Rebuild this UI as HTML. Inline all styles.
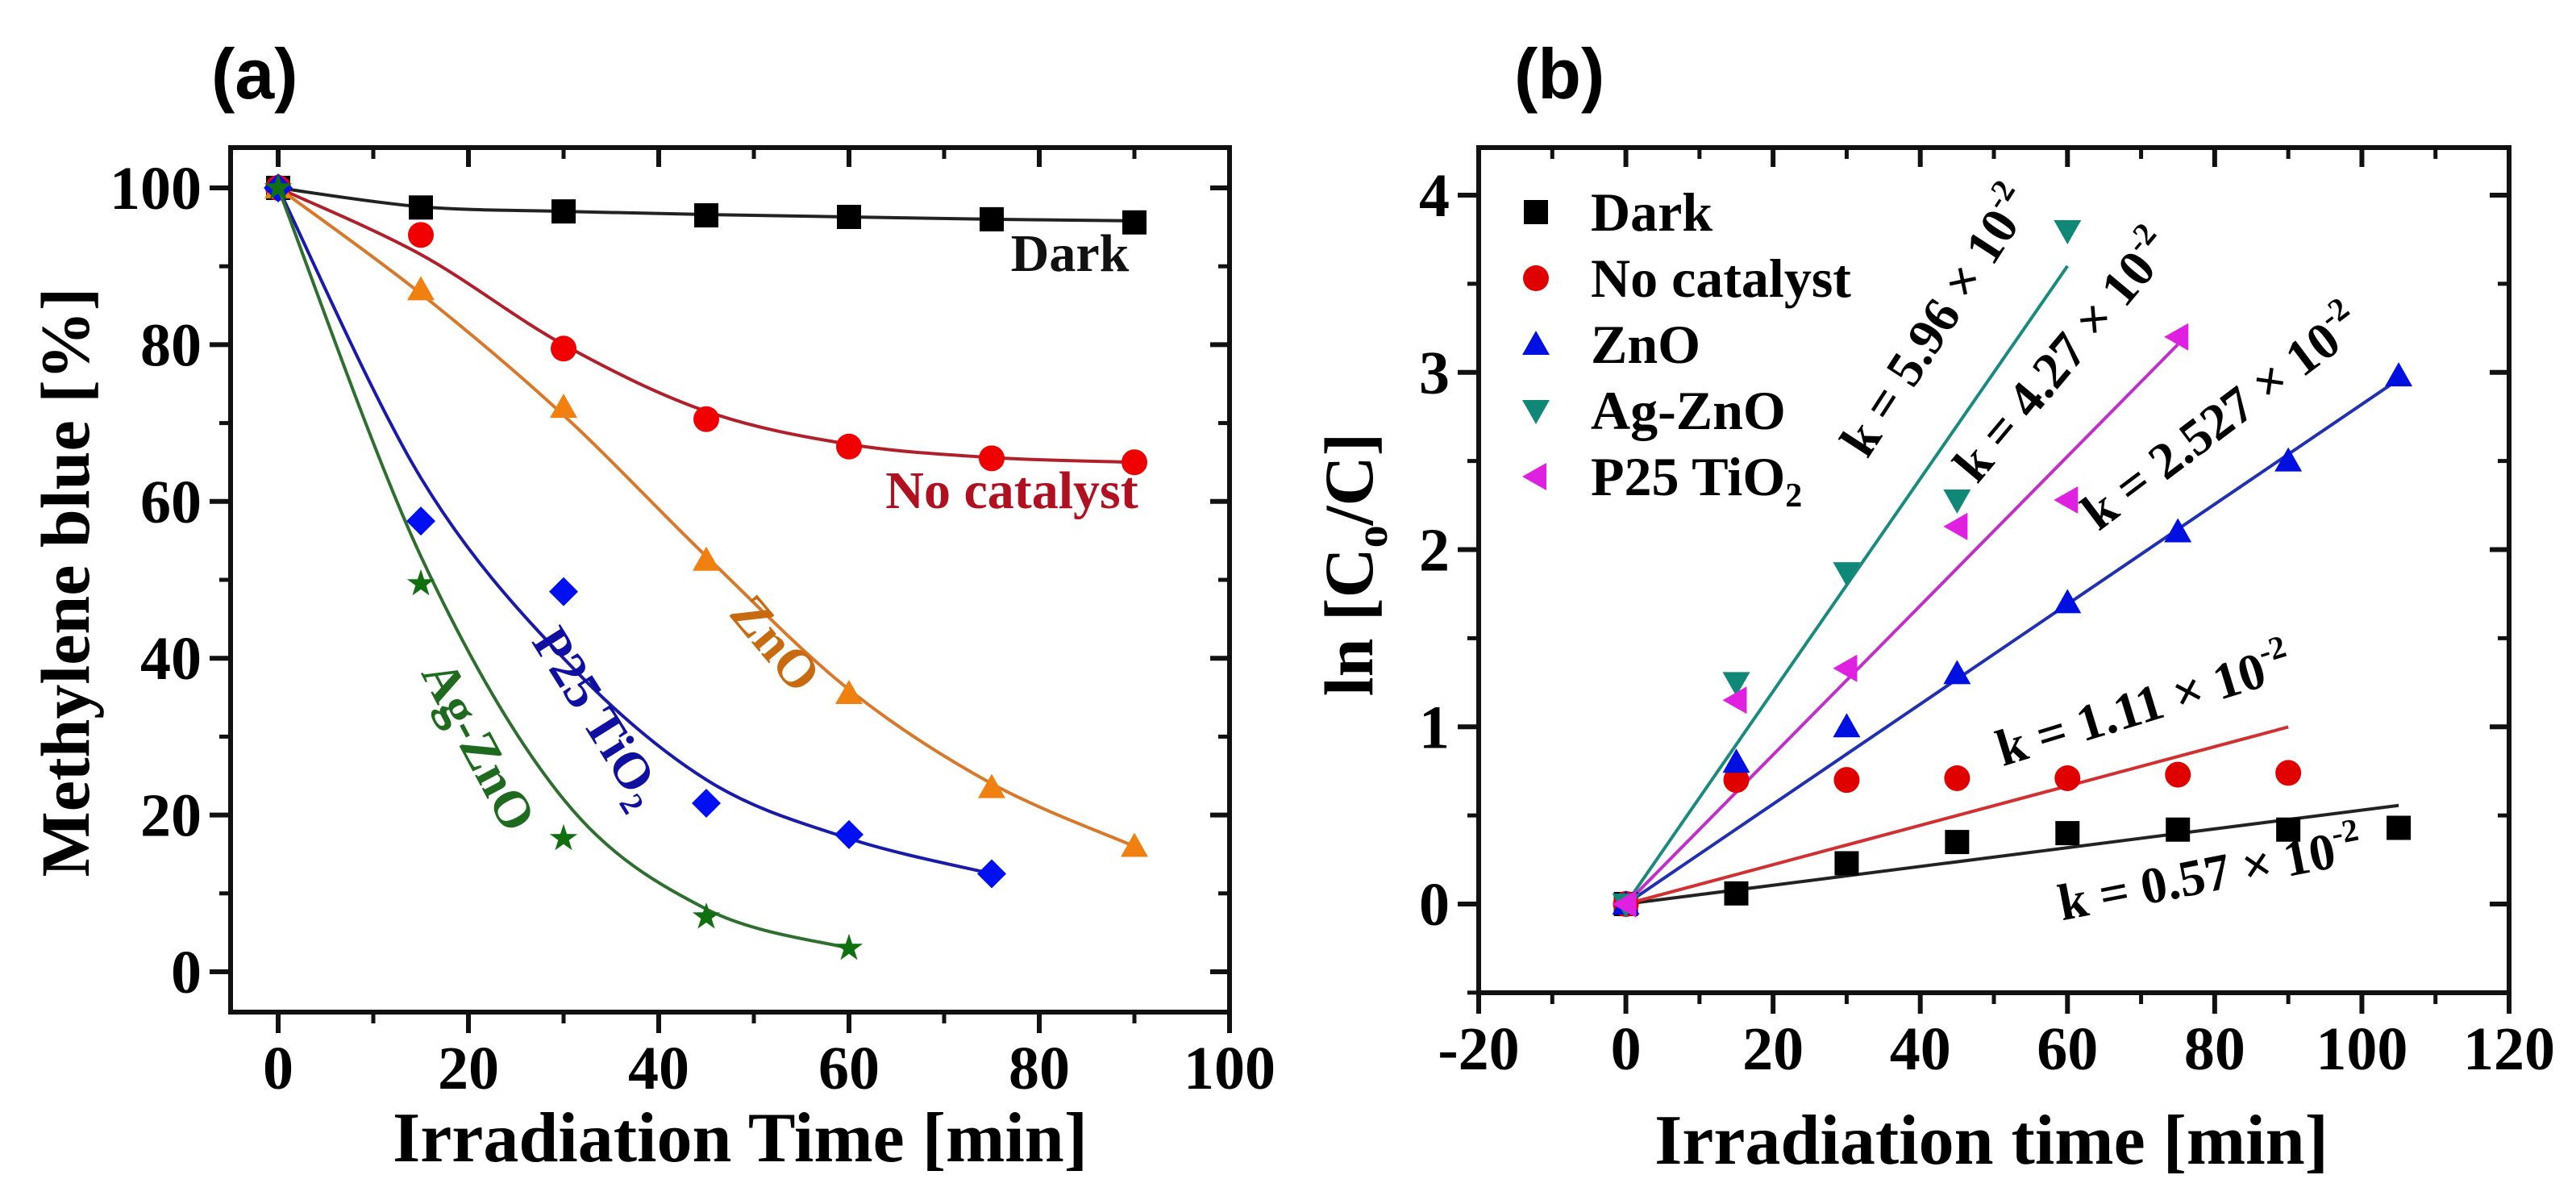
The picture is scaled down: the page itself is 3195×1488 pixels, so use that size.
<!DOCTYPE html>
<html><head><meta charset="utf-8"><style>
html,body{margin:0;padding:0;background:#fff;width:3195px;height:1488px;overflow:hidden}
svg text{font-family:"Liberation Serif",serif;font-weight:bold}
</style></head><body>
<svg id="fig" width="3195" height="1488" xmlns="http://www.w3.org/2000/svg">
<text x="262" y="122" style="font-family:'Liberation Sans',sans-serif;font-size:88px;font-weight:bold">(a)</text>
<text x="1878" y="122" style="font-family:'Liberation Sans',sans-serif;font-size:88px;font-weight:bold">(b)</text>
<g id="pa"></g>
<g id="pb"></g>
</svg>
<script>
// ---- Panel (a) data (measured points) ----
const timeA = [0, 15, 30, 45, 60, 75, 90];
const darkA = [100, 97.5, 97, 96.5, 96.3, 96.0, 95.6];
const noCatA = [100, 94, 79.5, 70.5, 67, 65.5, 65];
const znoA = [100, 87, 72, 52.5, 35.5, 23.5, 16];
const p25A = [100, 57.5, 48.5, 21.5, 17.5, 12.5];
const agznoA = [100, 49.5, 17, 7, 3];
// ---- Panel (a) fitted curve values (at same times) ----
const darkFitA = [100, 97.6, 97.0, 96.6, 96.3, 96.0, 95.8];
const noCatFitA = [100, 91.5, 80, 71.5, 67.3, 65.6, 65];
const znoFitA = [100, 86.5, 71, 53, 36, 24, 16];
const p25FitA = [100, 63, 40, 24.5, 17, 12.5];
const agznoFitA = [100, 53, 22, 8, 3];
const xTicksA = [0, 20, 40, 60, 80, 100];
const yTicksA = [0, 20, 40, 60, 80, 100];
// ---- Panel (b) data ----
const timeB = [0, 15, 30, 45, 60, 75, 90, 105];
const darkB = [0, 0.06, 0.23, 0.35, 0.40, 0.42, 0.42, 0.43];
const noCatB = [0, 0.70, 0.70, 0.71, 0.71, 0.73, 0.74];
const znoB = [0, 0.80, 1.00, 1.30, 1.70, 2.10, 2.50, 2.98];
const agznoB = [0, 1.25, 1.87, 2.28, 3.80];
const p25B = [0, 1.15, 1.33, 2.13, 2.28, 3.20];
const slopesB = [0.0053, 0.0111, 0.0282, 0.0600, 0.0421];
const fitEndB = [105, 90, 105, 60, 75];
const xTicksB = [-20, 0, 20, 40, 60, 80, 100, 120];
const yTicksB = [0, 1, 2, 3, 4];

const NS = "http://www.w3.org/2000/svg";
function mk(parent, tag, attrs, name, txt) {
  const e = document.createElementNS(NS, tag);
  for (const k in attrs) e.setAttribute(k, attrs[k]);
  
  
  if (txt !== undefined) e.textContent = txt;
  parent.appendChild(e);
  return e;
}
function axisFn(d0, d1, p0, p1) { return v => p0 + (v - d0) * (p1 - p0) / (d1 - d0); }

function marker(g, shape, x, y, color, name) {
  const s = 15;
  let el;
  if (shape === 'square') el = mk(g, 'rect', {x: x - s, y: y - s, width: 2 * s, height: 2 * s, fill: color}, name);
  else if (shape === 'circle') el = mk(g, 'circle', {cx: x, cy: y, r: s + 1, fill: color}, name);
  else if (shape === 'up') el = mk(g, 'polygon', {points: `${x},${y - s - 2} ${x - s - 2},${y + s - 2} ${x + s + 2},${y + s - 2}`, fill: color}, name);
  else if (shape === 'down') el = mk(g, 'polygon', {points: `${x},${y + s + 2} ${x - s - 2},${y - s + 2} ${x + s + 2},${y - s + 2}`, fill: color}, name);
  else if (shape === 'left') el = mk(g, 'polygon', {points: `${x - s - 2},${y} ${x + s - 2},${y - s - 2} ${x + s - 2},${y + s + 2}`, fill: color}, name);
  else if (shape === 'diamond') el = mk(g, 'polygon', {points: `${x},${y - s - 3} ${x + s + 3},${y} ${x},${y + s + 3} ${x - s - 3},${y}`, fill: color}, name);
  else if (shape === 'star') {
    let p = [];
    for (let i = 0; i < 10; i++) { const r = i % 2 ? 7 : 18; const a = -Math.PI / 2 + i * Math.PI / 5; p.push((x + r * Math.cos(a)).toFixed(1) + ',' + (y + r * Math.sin(a)).toFixed(1)); }
    el = mk(g, 'polygon', {points: p.join(' '), fill: color}, name);
  }
  return el;
}
function smoothPath(pts) {
  let d = `M${pts[0][0]},${pts[0][1]}`;
  for (let i = 0; i < pts.length - 1; i++) {
    const p0 = pts[i - 1] || pts[i], p1 = pts[i], p2 = pts[i + 1], p3 = pts[i + 2] || p2;
    const c1 = [p1[0] + (p2[0] - p0[0]) / 6, p1[1] + (p2[1] - p0[1]) / 6];
    const c2 = [p2[0] - (p3[0] - p1[0]) / 6, p2[1] - (p3[1] - p1[1]) / 6];
    d += ` C${c1[0]},${c1[1]} ${c2[0]},${c2[1]} ${p2[0]},${p2[1]}`;
  }
  return d;
}
function frame(g, L, T, R, B, X, Y, xt, xminor, yt, yminor, yfmt, pfx) {
  mk(g, 'rect', {x: L, y: T, width: R - L, height: B - T, fill: 'none', stroke: '#111', 'stroke-width': 6}, pfx + '-plot-frame');
  xminor.forEach(v => { const x = X(v);
    mk(g, 'line', {x1: x, y1: B, x2: x, y2: B + 14, stroke: '#111', 'stroke-width': 5}, pfx + '-x-minor-tick');
    mk(g, 'line', {x1: x, y1: T, x2: x, y2: T + 14, stroke: '#111', 'stroke-width': 5}, pfx + '-x-minor-tick-top'); });
  xt.forEach(v => { const x = X(v);
    mk(g, 'line', {x1: x, y1: B, x2: x, y2: B + 26, stroke: '#111', 'stroke-width': 6}, pfx + '-x-tick');
    mk(g, 'line', {x1: x, y1: T, x2: x, y2: T + 24, stroke: '#111', 'stroke-width': 6}, pfx + '-x-tick-top');
    mk(g, 'text', {x: x, y: B + 95, 'text-anchor': 'middle', 'font-size': 76}, pfx + '-x-tick-label', String(v)); });
  yminor.forEach(v => { const y = Y(v);
    mk(g, 'line', {x1: L, y1: y, x2: L - 14, y2: y, stroke: '#111', 'stroke-width': 5}, pfx + '-y-minor-tick');
    mk(g, 'line', {x1: R, y1: y, x2: R - 14, y2: y, stroke: '#111', 'stroke-width': 5}, pfx + '-y-minor-tick-right'); });
  yt.forEach(v => { const y = Y(v);
    mk(g, 'line', {x1: L, y1: y, x2: L - 26, y2: y, stroke: '#111', 'stroke-width': 6}, pfx + '-y-tick');
    mk(g, 'line', {x1: R, y1: y, x2: R - 24, y2: y, stroke: '#111', 'stroke-width': 6}, pfx + '-y-tick-right');
    mk(g, 'text', {x: L - 36, y: y + 26, 'text-anchor': 'end', 'font-size': 76}, pfx + '-y-tick-label', yfmt(v)); });
}

// ===== Panel A =====
(function () {
  const g = document.getElementById('pa');
  const L = 286, T = 183, R = 1525, B = 1255;
  const X = axisFn(0, 100, 345, 1525), Y = axisFn(0, 100, 1205, 233);
  const xminor = [10, 30, 50, 70, 90], yminor = [10, 30, 50, 70, 90];
  frame(g, L, T, R, B, X, Y, xTicksA, xminor, yTicksA, yminor, v => String(v), 'a');
  const series = [
    {vals: darkA, fit: darkFitA, c: '#000', lc: '#222', m: 'square', n: 'dark'},
    {vals: noCatA, fit: noCatFitA, c: '#f00000', lc: '#b0202a', m: 'circle', n: 'no-catalyst'},
    {vals: znoA, fit: znoFitA, c: '#f08010', lc: '#d8782a', m: 'up', n: 'zno'},
    {vals: p25A, fit: p25FitA, c: '#0010f0', lc: '#1a1aa8', m: 'diamond', n: 'p25-tio2'},
    {vals: agznoA, fit: agznoFitA, c: '#107010', lc: '#2e6e2e', m: 'star', n: 'ag-zno'}
  ];
  series.forEach(s => {
    const fp = s.fit.map((v, i) => [X(timeA[i]), Y(v)]);
    mk(g, 'path', {d: smoothPath(fp), fill: 'none', stroke: s.lc, 'stroke-width': 4}, s.n + '-curve');
    s.vals.forEach((v, i) => marker(g, s.m, X(timeA[i]), Y(v), s.c, s.n + '-point'));
  });
  mk(g, 'text', {x: 1327, y: 336, 'text-anchor': 'middle', 'font-size': 66, fill: '#111'}, 'dark-annotation', 'Dark');
  mk(g, 'text', {x: 1255, y: 630, 'text-anchor': 'middle', 'font-size': 66, fill: '#b01020'}, 'no-catalyst-annotation', 'No catalyst');
  mk(g, 'text', {x: 0, y: 0, transform: 'translate(945,812) rotate(50)', 'text-anchor': 'middle', 'font-size': 66, fill: '#c86a10'}, 'zno-annotation', 'ZnO');
  const t = mk(g, 'text', {x: 0, y: 0, transform: 'translate(724,900) rotate(58)', 'text-anchor': 'middle', 'font-size': 64, fill: '#1010a0'}, 'p25-annotation', 'P25 TiO');
  const ts = document.createElementNS(NS, 'tspan'); ts.setAttribute('font-size', '40'); ts.setAttribute('dy', '14'); ts.textContent = '2';
  
  
  t.appendChild(ts);
  mk(g, 'text', {x: 0, y: 0, transform: 'translate(575,935) rotate(62)', 'text-anchor': 'middle', 'font-size': 64, fill: '#1e6a1e'}, 'ag-zno-annotation', 'Ag-ZnO');
  mk(g, 'text', {x: 0, y: 0, transform: 'translate(110,722) rotate(-90)', 'text-anchor': 'middle', 'font-size': 86}, 'y-axis-title-a', 'Methylene blue [%]');
  mk(g, 'text', {x: 918, y: 1440, 'text-anchor': 'middle', 'font-size': 88}, 'x-axis-title-a', 'Irradiation Time [min]');
})();

// ===== Panel B =====
(function () {
  const g = document.getElementById('pb');
  const L = 1834, T = 183, R = 3112, B = 1231;
  const X = axisFn(-20, 120, 1834, 3112), Y = axisFn(0, 4, 1121, 242);
  const xminor = [-10, 10, 30, 50, 70, 90, 110], yminor = [-0.5, 0.5, 1.5, 2.5, 3.5];
  frame(g, L, T, R, B, X, Y, xTicksB, xminor, yTicksB, yminor, v => String(v), 'b');
  const series = [
    {vals: darkB, c: '#000', lc: '#222', m: 'square', n: 'dark', label: 'Dark'},
    {vals: noCatB, c: '#e00000', lc: '#d03030', m: 'circle', n: 'no-catalyst', label: 'No catalyst'},
    {vals: znoB, c: '#0010e0', lc: '#2030b0', m: 'up', n: 'zno', label: 'ZnO'},
    {vals: agznoB, c: '#108878', lc: '#1a8a7e', m: 'down', n: 'ag-zno', label: 'Ag-ZnO'},
    {vals: p25B, c: '#e020e0', lc: '#c030c8', m: 'left', n: 'p25-tio2', label: 'P25 TiO'}
  ];
  series.forEach((s, i) => {
    mk(g, 'line', {x1: X(0), y1: Y(0), x2: X(fitEndB[i]), y2: Y(slopesB[i] * fitEndB[i]), stroke: s.lc, 'stroke-width': 4}, s.n + '-fit-line');
  });
  series.forEach(s => {
    s.vals.forEach((v, i) => marker(g, s.m, X(timeB[i]), Y(v), s.c, s.n + '-point'));
  });
  series.forEach((s, i) => {
    const y = 263 + i * 82;
    marker(g, s.m, 1905, y, s.c, 'legend-marker-' + s.n);
    const t = mk(g, 'text', {x: 1973, y: y + 23, 'font-size': 68}, 'legend-entry-' + s.n, s.label);
    if (s.n === 'p25-tio2') {
      const ts = document.createElementNS(NS, 'tspan'); ts.setAttribute('font-size', '42'); ts.setAttribute('dy', '14'); ts.textContent = '2';
      
      
      t.appendChild(ts);
    }
  });
  const kl = [
    ['k = 5.96 × 10', 2420, 410, -57, 'k-label-ag-zno'],
    ['k = 4.27 × 10', 2575, 455, -50, 'k-label-p25'],
    ['k = 2.527 × 10', 2768, 535, -37, 'k-label-zno'],
    ['k = 1.11 × 10', 2665, 895, -17, 'k-label-no-catalyst'],
    ['k = 0.57 × 10', 2745, 1105, -11, 'k-label-dark']
  ];
  kl.forEach(k => {
    const t = mk(g, 'text', {x: 0, y: 0, transform: `translate(${k[1]},${k[2]}) rotate(${k[3]})`, 'text-anchor': 'middle', 'font-size': 64}, k[4], k[0]);
    const ts = document.createElementNS(NS, 'tspan'); ts.setAttribute('font-size', '40'); ts.setAttribute('dy', '-28'); ts.textContent = '-2';
    
    
    t.appendChild(ts);
  });
  const yt = mk(g, 'text', {x: 0, y: 0, transform: 'translate(1702,700) rotate(-90)', 'text-anchor': 'middle', 'font-size': 86}, 'y-axis-title-b', 'ln [C');
  const sub = document.createElementNS(NS, 'tspan'); sub.setAttribute('font-size', '56'); sub.setAttribute('dy', '18'); sub.textContent = 'o';
  
  
  yt.appendChild(sub);
  const rest = document.createElementNS(NS, 'tspan'); rest.setAttribute('dy', '-18'); rest.textContent = '/C]';
  
  
  yt.appendChild(rest);
  mk(g, 'text', {x: 2470, y: 1443, 'text-anchor': 'middle', 'font-size': 88}, 'x-axis-title-b', 'Irradiation time [min]');
})();
</script>
</body></html>
